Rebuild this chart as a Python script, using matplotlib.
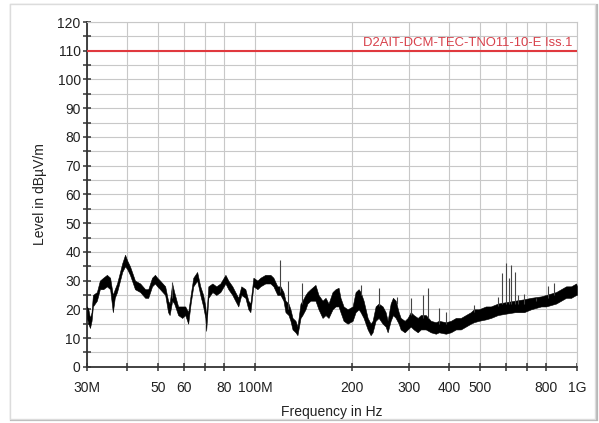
import numpy as np
import matplotlib.pyplot as plt
from matplotlib.patches import Rectangle
from matplotlib.ticker import FixedLocator, FixedFormatter, MultipleLocator
import matplotlib.transforms as mtransforms

plt.rcParams['font.family'] = ['Liberation Sans', 'DejaVu Sans']

# Measured trace, frequency in MHz, level envelope in dBuV/m
freq = [30.0, 30.3, 30.65, 31.0, 31.3, 32.2, 32.9, 33.7, 34.6, 35.4, 36.1, 36.6, 37.2, 38.0,
        38.6, 39.4, 40.0, 40.8, 41.4, 42.3, 43.9, 45.5, 46.5, 47.8, 48.8, 49.6, 50.6, 52.5,
        53.6, 54.2, 55.2, 56.0, 57.6, 59.3, 60.6, 61.9, 63.0, 64.2, 66.0, 67.5, 68.9, 70.0,
        70.4, 71.5, 73.6, 75.7, 77.9, 80.8, 82.5, 84.9, 86.7, 88.6, 90.5, 93.2, 95.2, 96.6,
        98.7, 101.6, 103.8, 107.5, 111.5, 113.9, 117.2, 119.8, 122.4, 124.2, 126.9, 128.7,
        130.6, 133.4, 135.3, 138.3, 140.2, 143.3, 145.3, 148.5, 153.9, 157.3, 161.9, 165.4,
        169.0, 173.9, 177.7, 181.6, 184.1, 188.2, 193.7, 200.8, 205.1, 209.6, 212.6, 217.2,
        223.6, 228.4, 231.7, 236.7, 241.9, 248.9, 254.3, 258.0, 263.6, 268.0, 273.3, 279.2,
        283.2, 291.5, 297.8, 304.3, 310.9, 320.0, 327.0, 339.0, 351.4, 364.2, 372.2, 391.2,
        405.6, 420.4, 435.6, 451.4, 467.8, 478.1, 495.5, 521.0, 540.0, 567.8, 601.7, 641.8,
        684.7, 719.6, 773.5, 801.8, 830.8, 861.1, 892.6, 925.3, 959.2, 994.2, 1000.0]
level_lo = [17, 15, 13.5, 16, 21, 23, 27, 27, 28, 27, 19, 24, 26, 30,
            33, 35, 34, 32, 30, 27, 26, 24, 24, 28, 29, 28, 27, 25,
            19, 18, 23, 22, 18, 17, 18, 15, 22, 28, 30, 25, 21, 17,
            12.5, 24, 26, 25, 26, 29, 27, 25, 23, 21, 25, 24, 20, 19,
            28, 27, 28, 29, 29, 28, 25, 25, 23, 19, 18, 16,
            13, 12, 11, 17, 18, 20, 22, 23, 23, 20, 17, 18,
            17, 20, 21, 21, 19, 16, 15, 16, 19, 20, 19, 17,
            13, 11, 12, 16, 17, 15, 14, 12, 16, 18, 17, 15,
            13, 12, 13, 14, 13, 12, 13, 13, 12, 11.5, 12, 11.5,
            12, 13, 13, 14, 15, 15.5, 16, 16.5, 17, 18, 18.5, 19,
            19, 20, 21, 21, 21.5, 22, 23, 24, 24, 25, 25]
level_hi = [21, 20, 17, 19, 25, 26, 30, 31, 32, 31, 25, 27, 29, 33,
            36, 39, 37, 35, 33, 30, 29, 27, 27, 31, 32, 31, 30, 28,
            23, 22, 29, 26, 21, 21, 21, 19, 25, 31, 33, 28, 25, 21,
            17, 28, 29, 28, 29, 32, 30, 28, 26, 24, 28, 27, 23, 22,
            31, 30, 31, 32, 32, 31, 28, 28, 26, 23, 22, 20,
            17, 16, 14, 22, 23, 25, 26, 27, 28.5, 25, 23, 24,
            22, 26, 27, 27.5, 24, 21, 20, 21, 26, 27, 26, 23,
            17, 15, 16, 21, 22, 21, 19, 16, 22, 24, 23, 19,
            17, 16, 17, 19, 18, 17, 18, 18, 16, 15.5, 16, 15.5,
            16, 17, 17, 18, 19, 20, 20, 21, 21, 22, 22.5, 23,
            23.5, 24, 24.5, 25, 25.5, 26, 27, 28, 28, 29, 28]

# Narrow-band peaks: frequency, foot and top level
spike_f = [55.2, 119.8, 126.5, 140.0, 212.6, 241.9, 276.0, 304.3, 331.7, 343.9, 372.2, 391.2,
           478.1, 567.8, 584.6, 601.7, 614.8, 623.7, 641.8, 655.8, 684.7, 746.2, 813.0, 848.8]
spike_lo = [24, 26, 20, 22, 25, 21, 22, 18, 17, 17, 15, 15,
            19, 21, 22, 22, 22, 22, 22, 22, 22, 23, 24, 25]
spike_hi = [29.5, 37, 30, 29, 28.5, 27.5, 24.3, 24, 25, 27.5, 20.5, 19,
            21.5, 24.3, 32.7, 36, 31, 35.5, 33, 25, 25.5, 24, 28, 29]

limit_level = 110
limit_name = 'D2AIT-DCM-TEC-TNO11-10-E Iss.1'

xtick_pos = [30, 40, 50, 60, 70, 80, 100, 200, 300, 400, 500, 600, 700, 800, 1000]
xtick_lab = ['30M', '', '50', '60', '', '80', '100M', '200', '300', '400', '500', '', '', '800', '1G']

fig = plt.figure(figsize=(5.99, 4.23), dpi=100)

# frame around the plot
fig.patches.append(Rectangle((0.019, 0.006), 0.978, 0.981, transform=fig.transFigure,
                             facecolor='none', edgecolor='#b8b8b8', lw=1.6, zorder=0))
fig.patches.append(Rectangle((0.016, 0.009), 0.978, 0.981, transform=fig.transFigure,
                             facecolor='white', edgecolor='#dcdcdc', lw=1.0, zorder=0))

ax = fig.add_axes([0.1452, 0.1329, 0.818, 0.815])
ax.set_zorder(2)
ax.set_xscale('log')
ax.set_xlim(30, 1000)
ax.set_ylim(0, 120)

ax.fill_between(freq, level_lo, level_hi, color='black', lw=0.4, edgecolor='black', zorder=3)
ax.vlines(spike_f, spike_lo, spike_hi, color='#444444', lw=0.8, zorder=3)

ax.axhline(limit_level, color='#e0393e', lw=1.5, zorder=4)
trans = mtransforms.blended_transform_factory(ax.transAxes, ax.transData)
ax.text(0.99, limit_level + 1.6, limit_name, transform=trans, ha='right', va='baseline',
        color='#d8404a', fontsize=9.4, zorder=5)

ax.xaxis.set_major_locator(FixedLocator(xtick_pos))
ax.xaxis.set_major_formatter(FixedFormatter(xtick_lab))
ax.xaxis.set_minor_locator(FixedLocator([]))
ax.yaxis.set_major_locator(MultipleLocator(10))
ax.yaxis.set_minor_locator(MultipleLocator(5))

ax.grid(True, which='both', color='#c8c8c8', lw=0.8, zorder=1)
ax.set_axisbelow(True)

ax.tick_params(axis='x', which='major', direction='inout', length=6, width=1.1,
               color='#333333', labelsize=10, labelcolor='#222222', pad=7)
ax.tick_params(axis='y', which='both', direction='inout', length=6, width=1.1,
               color='#333333', labelsize=10, labelcolor='#222222', pad=1.5)

for s in ['top', 'right']:
    ax.spines[s].set_color('#c8c8c8')
    ax.spines[s].set_linewidth(0.8)
for s in ['left', 'bottom']:
    ax.spines[s].set_color('#333333')
    ax.spines[s].set_linewidth(1.3)

ax.set_xlabel('Frequency in Hz', fontsize=10, color='#222222', va='top')
ax.xaxis.set_label_coords(0.5, -0.112)
ax.set_ylabel('Level in dB\u00b5V/m', fontsize=10, color='#222222', va='center')
ax.yaxis.set_label_coords(-0.096, 0.5)

plt.savefig('out.png', dpi=100)
